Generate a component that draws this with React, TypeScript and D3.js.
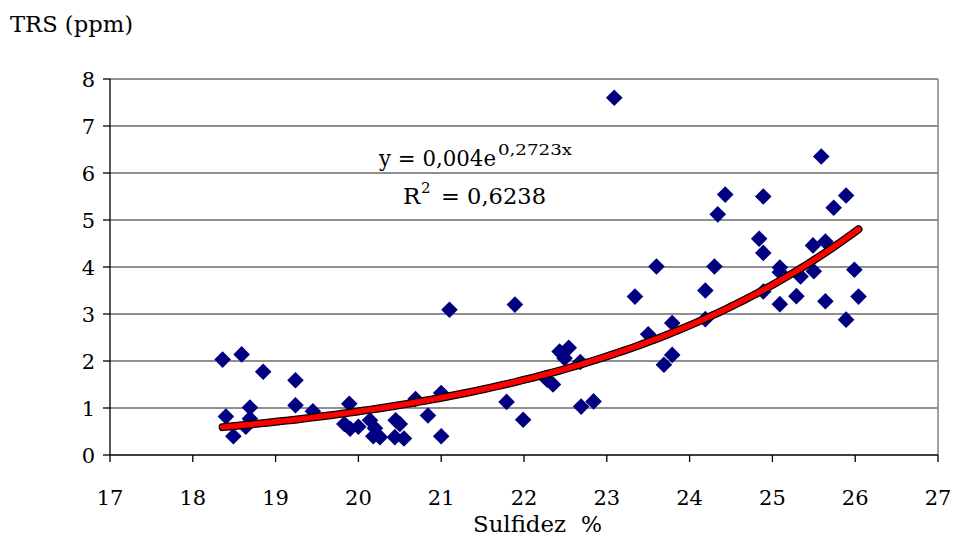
import React from "react";
import * as d3 from "d3";

const sulfidez = [
  18.36, 18.40, 18.49, 18.59, 18.64, 18.69, 18.69, 18.85, 19.24, 19.24,
  19.45, 19.83, 19.89, 19.90, 20.00, 20.14, 20.20, 20.18, 20.26, 20.45,
  20.50, 20.44, 20.55, 20.69, 20.84, 21.00, 21.00, 21.10, 21.79, 21.89,
  21.99, 22.28, 22.35, 22.43, 22.49, 22.54, 22.68, 22.69, 22.84, 23.09,
  23.34, 23.50, 23.60, 23.69, 23.79, 23.79, 24.19, 24.19, 24.30, 24.34,
  24.43, 24.84, 24.89, 24.89, 24.89, 25.09, 25.09, 25.09, 25.29, 25.34,
  25.49, 25.50, 25.59, 25.64, 25.64, 25.74, 25.89, 25.89, 25.99, 26.04,
];
const trs = [
  2.03, 0.82, 0.40, 2.14, 0.60, 1.01, 0.77, 1.77, 1.59, 1.06,
  0.93, 0.66, 1.09, 0.56, 0.60, 0.74, 0.57, 0.40, 0.38, 0.74,
  0.66, 0.38, 0.35, 1.19, 0.84, 1.32, 0.40, 3.09, 1.13, 3.20,
  0.75, 1.60, 1.50, 2.20, 2.06, 2.28, 1.98, 1.03, 1.14, 7.60,
  3.37, 2.57, 4.01, 1.92, 2.81, 2.13, 3.50, 2.89, 4.01, 5.12,
  5.54, 4.60, 4.30, 5.50, 3.48, 3.99, 3.89, 3.21, 3.38, 3.80,
  4.46, 3.91, 6.35, 4.54, 3.27, 5.26, 5.52, 2.88, 3.94, 3.37,
];
const xTicks = [17, 18, 19, 20, 21, 22, 23, 24, 25, 26, 27];
const yTicks = [0, 1, 2, 3, 4, 5, 6, 7, 8];
const trendA = 0.004;
const trendB = 0.2723;
const eqText = "y = 0,004e";
const eqExp = "0,2723x";
const r2Text = "= 0,6238";

export default function App() {
  const W = 954, H = 537;
  const x = d3.scaleLinear().domain([17, 27]).range([110, 938]);
  const y = d3.scaleLinear().domain([0, 8]).range([455, 79]);
  const font = "'DejaVu Serif', serif";
  const xmin = d3.min(sulfidez)!, xmax = d3.max(sulfidez)!;
  const trendPts = d3.range(0, 101).map(i => {
    const xv = xmin + (xmax - xmin) * i / 100;
    return [xv, trendA * Math.exp(trendB * xv)] as [number, number];
  });
  const line = d3.line<[number, number]>().x(d => x(d[0])).y(d => y(d[1]));
  const pathD = line(trendPts)!;
  const dsz = 8.3;
  return (
    <svg width={W} height={H} style={{ position: "absolute", left: 0, top: 0 }}>
      <rect width={W} height={H} fill="#fff" />
      {yTicks.filter(t => t > 0).map(t => (
        <line key={"g" + t} x1={x(17)} x2={x(27)} y1={y(t)} y2={y(t)} stroke="#6b6b6b" strokeWidth={1.3} />
      ))}
      <line x1={x(27)} x2={x(27)} y1={y(8)} y2={y(0)} stroke="#808080" strokeWidth={1.5} />
      <line x1={x(17)} x2={x(17)} y1={y(8)} y2={y(0)} stroke="#000" strokeWidth={1.3} />
      <line x1={x(17)} x2={x(27)} y1={y(0)} y2={y(0)} stroke="#000" strokeWidth={1.3} />
      {yTicks.map(t => (
        <g key={"y" + t}>
          <line x1={x(17) - 7} x2={x(17)} y1={y(t)} y2={y(t)} stroke="#000" strokeWidth={1.3} />
          <text x={x(17) - 15} y={y(t)} dy="0.36em" textAnchor="end" fontFamily={font} fontSize={21}>{t}</text>
        </g>
      ))}
      {xTicks.map(t => (
        <g key={"x" + t}>
          <line x1={x(t)} x2={x(t)} y1={y(0)} y2={y(0) + 7} stroke="#000" strokeWidth={1.3} />
          <text x={x(t)} y={y(0) + 50} textAnchor="middle" fontFamily={font} fontSize={21}>{t}</text>
        </g>
      ))}
      {sulfidez.map((sv, i) => {
        const cx = x(sv), cy = y(trs[i]);
        return (
          <path key={"p" + i} d={`M${cx},${cy - dsz}L${cx + dsz},${cy}L${cx},${cy + dsz}L${cx - dsz},${cy}Z`} fill="#000080" />
        );
      })}
      <path d={pathD} fill="none" stroke="#000" strokeWidth={8} strokeLinecap="round" />
      <path d={pathD} fill="none" stroke="#ff0000" strokeWidth={5.5} strokeLinecap="round" />
      <text x={379} y={166} fontFamily={font} fontSize={23} textLength={117} lengthAdjust="spacingAndGlyphs">{eqText}</text>
      <text x={498} y={155} fontFamily={font} fontSize={15} textLength={74} lengthAdjust="spacingAndGlyphs">{eqExp}</text>
      <text x={403} y={204} fontFamily={font} fontSize={23}>R</text>
      <text x={421} y={193} fontFamily={font} fontSize={15}>2</text>
      <text x={441} y={204} fontFamily={font} fontSize={23} textLength={105} lengthAdjust="spacingAndGlyphs">{r2Text}</text>
      <text x={10} y={32} fontFamily={font} fontSize={23} textLength={123} lengthAdjust="spacingAndGlyphs">TRS (ppm)</text>
      <text x={473} y={532} fontFamily={font} fontSize={23} textLength={93} lengthAdjust="spacingAndGlyphs">Sulfidez</text>
      <text x={581} y={532} fontFamily={font} fontSize={23} textLength={21} lengthAdjust="spacingAndGlyphs">%</text>
    </svg>
  );
}
